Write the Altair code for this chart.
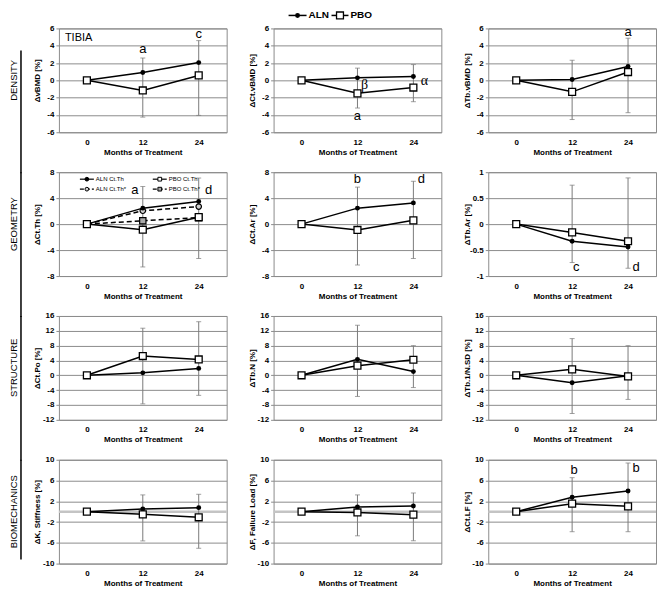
import altair as alt
import pandas as pd

# ---------------- data ----------------
months = [0, 12, 24]
row_labels = ["DENSITY", "GEOMETRY", "STRUCTURE", "BIOMECHANICS"]
panel_titles = [
    "ΔvBMD [%]", "ΔCt.vBMD [%]", "ΔTb.vBMD [%]",
    "ΔCt.Th [%]", "ΔCt.Ar [%]", "ΔTb.Ar [%]",
    "ΔCt.Po [%]", "ΔTb.N [%]", "ΔTb.1/N.SD [%]",
    "ΔK, Stiffness [%]", "ΔF, Failure Load [%]", "ΔCt.LF [%]",
]
aln_values = [
    [0, 0.9, 2.05], [0, 0.29, 0.44], [0, 0.1, 1.6],
    [0, 2.46, 3.5], [0, 2.46, 3.27], [0, -0.33, -0.44],
    [0, 0.66, 1.86], [0, 4.3, 1.0], [0, -2.0, -0.1],
    [0, 0.52, 0.77], [0, 0.89, 1.08], [0, 2.79, 3.98],
]
pbo_values = [
    [0, -1.17, 0.57], [0, -1.5, -0.83], [0, -1.33, 0.96],
    [0, -0.86, 1.07], [0, -0.9, 0.58], [0, -0.16, -0.33],
    [0, 5.2, 4.28], [0, 2.6, 4.2], [0, 1.6, -0.3],
    [0, -0.52, -1.08], [0, -0.15, -0.58], [0, 1.54, 1.03],
]
err_months = [12, 24]
err_low = [
    [-4.25, -4.05], [-3.2, -2.47], [-4.53, -3.74],
    [-6.6, -5.3], [-6.3, -5.3], [-0.74, -0.85],
    [-7.7, -5.4], [-5.7, -3.3], [-10.3, -6.5],
    [-5.63, -7.05], [-4.65, -5.6], [-3.86, -3.86],
]
err_high = [
    [2.58, 4.59], [1.41, 1.82], [2.32, 4.87],
    [5.8, 7.1], [5.7, 6.6], [0.75, 0.89],
    [12.7, 14.45], [13.5, 8.0], [9.9, 8.0],
    [3.23, 3.35], [3.23, 3.6], [6.55, 9.37],
]
y_ticks = [
    [-6, -4, -2, 0, 2, 4, 6]] * 3 + [
    [-8, -4, 0, 4, 8], [-8, -4, 0, 4, 8], [-1, -0.5, 0, 0.5, 1]] + [
    [-12, -8, -4, 0, 4, 8, 12, 16]] * 3 + [
    [-10, -6, -2, 2, 6, 10]] * 3

# corrected cortical thickness series (GEOMETRY, first panel)
aln_star = [0, 2.06, 2.7]
pbo_star = [0, 0.52, 1.0]

# significance letters: panel, month, y, text, dx, serif
annotations = [
    (0, 12, 3.6, "a", 0, False), (0, 24, 5.4, "c", 0, False),
    (1, 12, -0.55, "β", 7, True), (1, 24, -0.1, "α", 11, True),
    (1, 12, -4.1, "a", 0, False),
    (2, 24, 5.55, "a", 0, False),
    (3, 12, 5.3, "a", -8, False), (3, 24, 5.3, "d", 10, False),
    (4, 12, 6.95, "b", 0, False), (4, 24, 6.95, "d", 8, False),
    (5, 12, -0.83, "c", 4, False), (5, 24, -0.83, "d", 8, False),
    (11, 12, 7.96, "b", 2, False), (11, 24, 8.5, "b", 8, False),
]

# ---------------- layout ----------------
W, H = 168, 104
COL_SPACE, ROW_SPACE = 47, 40
FONT = "Liberation Sans"
GRID = "#8c8c8c"


def xch(field="month"):
    return alt.X(
        f"{field}:O",
        scale=alt.Scale(type="point", padding=0.5, domain=months),
        axis=alt.Axis(title="Months of Treatment", labelAngle=0, ticks=False,
                      tickSize=0, labelPadding=6, titlePadding=2, grid=False),
    )


def panel(i):
    ticks = y_ticks[i]
    yscale = alt.Scale(domain=[ticks[0], ticks[-1]], nice=False, zero=False)
    yaxis = alt.Axis(values=ticks, labelExpr="replace(format(datum.value, '.1~f'), '−', '-')",
                     grid=True, gridColor=GRID,
                     tickColor=GRID, tickSize=3, labelPadding=2,
                     minExtent=15, maxExtent=15, titlePadding=2)

    def ych(field):
        return alt.Y(f"{field}:Q", scale=yscale, axis=yaxis, title=panel_titles[i])

    layers = []
    if i >= 9:
        zero = pd.DataFrame({"value": [0]})
        layers.append(alt.Chart(zero).mark_rule(color="#c4c4c4", strokeWidth=2.5)
                      .encode(y=ych("value")))

    err = pd.DataFrame({"month": err_months, "lo": err_low[i], "hi": err_high[i]})
    eb = alt.Chart(err)
    layers.append(eb.mark_rule(color="#7a7a7a", strokeWidth=1)
                  .encode(x=xch(), y=ych("lo"), y2="hi:Q"))
    layers.append(eb.mark_tick(color="#7a7a7a", size=5, thickness=1)
                  .encode(x=xch(), y=ych("lo")))
    layers.append(eb.mark_tick(color="#7a7a7a", size=5, thickness=1)
                  .encode(x=xch(), y=ych("hi")))

    aln = pd.DataFrame({"month": months, "value": aln_values[i]})
    pbo = pd.DataFrame({"month": months, "value": pbo_values[i]})

    if i == 3:
        astar = pd.DataFrame({"month": months, "value": aln_star})
        pstar = pd.DataFrame({"month": months, "value": pbo_star})
        for d in (astar, pstar):
            layers.append(alt.Chart(d).mark_line(color="black", strokeWidth=1.5,
                                                 strokeDash=[5, 3])
                          .encode(x=xch(), y=ych("value")))

    for d in (aln, pbo):
        layers.append(alt.Chart(d).mark_line(color="black", strokeWidth=1.5)
                      .encode(x=xch(), y=ych("value")))

    if i == 3:
        layers.append(alt.Chart(astar).mark_point(shape="circle", filled=True,
                                                  fill="#cfcfcf", stroke="black",
                                                  strokeWidth=1.2, size=30, opacity=1)
                      .encode(x=xch(), y=ych("value")))
        layers.append(alt.Chart(pstar).mark_point(shape="square", filled=True,
                                                  fill="#a8a8a8", stroke="black",
                                                  strokeWidth=1.2, size=40, opacity=1)
                      .encode(x=xch(), y=ych("value")))

    layers.append(alt.Chart(aln).mark_point(shape="circle", filled=True, color="black",
                                            size=24, opacity=1)
                  .encode(x=xch(), y=ych("value")))
    layers.append(alt.Chart(pbo).mark_point(shape="square", filled=True, fill="white",
                                            stroke="black", strokeWidth=1.3, size=48,
                                            opacity=1)
                  .encode(x=xch(), y=ych("value")))

    for (p, m, yv, txt, dx, serif) in annotations:
        if p != i:
            continue
        a = pd.DataFrame({"month": [m], "value": [yv], "t": [txt]})
        layers.append(alt.Chart(a).mark_text(
            fontSize=14 if serif else 13,
            font="Liberation Serif" if serif else FONT,
            dx=dx, color="black", baseline="middle")
            .encode(x=xch(), y=ych("value"), text="t:N"))

    # decorations
    if i == 0:
        t = pd.DataFrame({"t": ["TIBIA"]})
        layers.append(alt.Chart(t).mark_text(align="left", baseline="middle", fontSize=11,
                                             font=FONT, color="black")
                      .encode(x=alt.value(6), y=alt.value(10), text="t:N"))
    if i == 1:
        lg = pd.DataFrame({"t": ["ALN"]})
        ly = -13
        c = alt.Chart(lg)
        layers += [
            c.mark_rule(color="black", strokeWidth=1.5).encode(
                x=alt.value(15), x2=alt.value(33), y=alt.value(ly)),
            c.mark_point(shape="circle", filled=True, color="black", size=24, opacity=1)
            .encode(x=alt.value(24), y=alt.value(ly)),
            c.mark_text(align="left", baseline="middle", fontSize=10, fontWeight="bold",
                        font=FONT, color="black")
            .encode(x=alt.value(35), y=alt.value(ly), text=alt.value("ALN")),
            c.mark_rule(color="black", strokeWidth=1.5).encode(
                x=alt.value(58), x2=alt.value(75), y=alt.value(ly)),
            c.mark_point(shape="square", filled=True, fill="white", stroke="black",
                         strokeWidth=1.3, size=48, opacity=1)
            .encode(x=alt.value(66.5), y=alt.value(ly)),
            c.mark_text(align="left", baseline="middle", fontSize=10, fontWeight="bold",
                        font=FONT, color="black")
            .encode(x=alt.value(77), y=alt.value(ly), text=alt.value("PBO")),
        ]
    if i == 3:
        c = alt.Chart(pd.DataFrame({"t": ["x"]}))
        items = [
            (21, 7, "ALN Ct.Th", "circle", "black", None),
            (94, 7, "PBO Ct.Th", "square", "white", None),
            (21, 17, "ALN Ct.Th*", "circle", "#cfcfcf", [4, 2]),
            (94, 17, "PBO Ct.Th*", "square", "#a8a8a8", [4, 2]),
        ]
        for (lx, ly, txt, shp, fill, dash) in items:
            rk = dict(color="black", strokeWidth=1.2)
            if dash:
                rk["strokeDash"] = dash
            layers.append(c.mark_rule(**rk).encode(
                x=alt.value(lx), x2=alt.value(lx + 14), y=alt.value(ly)))
            layers.append(c.mark_point(shape=shp, filled=True, fill=fill, stroke="black",
                                       strokeWidth=1, size=14, opacity=1)
                          .encode(x=alt.value(lx + 7), y=alt.value(ly)))
            layers.append(c.mark_text(align="left", baseline="middle", fontSize=6,
                                      font=FONT, color="black")
                          .encode(x=alt.value(lx + 16), y=alt.value(ly),
                                  text=alt.value(txt)))
    if i % 3 == 0:
        r = i // 3
        c = alt.Chart(pd.DataFrame({"t": [row_labels[r]]}))
        layers.append(c.mark_text(angle=270, align="center", baseline="middle",
                                  fontSize=9.5, font=FONT, color="black")
                      .encode(x=alt.value(-45), y=alt.value(H / 2), text="t:N"))
        y0 = 22 if r == 0 else 0
        y1 = H - 4 if r == 3 else H + ROW_SPACE + 1
        layers.append(c.mark_rule(color="black", strokeWidth=1.5).encode(
            x=alt.value(-38), y=alt.value(y0), y2=alt.value(y1)))

    return alt.layer(*layers).properties(width=W, height=H)


panels = [panel(i) for i in range(12)]

chart = alt.concat(
    *panels, columns=3, bounds="flush",
    spacing={"row": ROW_SPACE, "column": COL_SPACE},
).properties(padding=0, background="white").configure_view(
    stroke=GRID, strokeWidth=1
).configure_axis(
    labelFont=FONT, titleFont=FONT, labelFontSize=8, titleFontSize=8,
    labelFontWeight="bold", titleFontWeight="bold", labelColor="black",
    titleColor="black", domain=False,
)

chart.save("out.html", embed_options={"renderer": "svg", "actions": False})
